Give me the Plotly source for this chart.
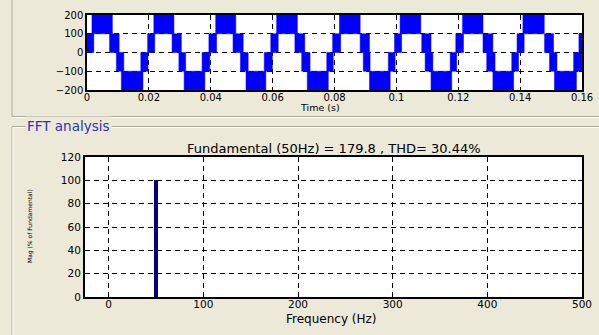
import plotly.graph_objects as go

# ---------------- data ----------------
# Top plot: PWM staircase waveform, drawn as switching bands (start, end) per level band
band_100_200 = [(0.0016, 0.0082), (0.0216, 0.0281), (0.0416, 0.0481), (0.0613, 0.0680),
                (0.0816, 0.0883), (0.1012, 0.1079), (0.1214, 0.1280), (0.1409, 0.1478)]
band_0_100 = [(0.0000, 0.0022), (0.0073, 0.0104), (0.0196, 0.0219), (0.0275, 0.0305),
              (0.0394, 0.0419), (0.0472, 0.0505), (0.0594, 0.0618), (0.0672, 0.0704),
              (0.0794, 0.0820), (0.0883, 0.0913), (0.0994, 0.1017), (0.1082, 0.1112),
              (0.1192, 0.1217), (0.1280, 0.1312), (0.1390, 0.1413), (0.1479, 0.1508),
              (0.1590, 0.1600)]
band_m100_0 = [(0.0095, 0.0119), (0.0174, 0.0197), (0.0297, 0.0319), (0.0372, 0.0397),
               (0.0496, 0.0521), (0.0573, 0.0599), (0.0694, 0.0721), (0.0775, 0.0796),
               (0.0893, 0.0915), (0.0974, 0.0996), (0.1093, 0.1118), (0.1174, 0.1195),
               (0.1292, 0.1319), (0.1373, 0.1395), (0.1495, 0.1519), (0.1573, 0.1600)]
band_m200_m100 = [(0.0111, 0.0181), (0.0314, 0.0381), (0.0514, 0.0578), (0.0712, 0.0780),
                  (0.0913, 0.0980), (0.1112, 0.1179), (0.1312, 0.1379), (0.1511, 0.1582)]
band_levels = [(100, 200), (0, 100), (-100, 0), (-200, -100)]

time_ticks = [0, 0.02, 0.04, 0.06, 0.08, 0.1, 0.12, 0.14, 0.16]
time_tick_text = ["0", "0.02", "0.04", "0.06", "0.08", "0.1", "0.12", "0.14", "0.16"]
volt_ticks = [-200, -100, 0, 100, 200]

# Bottom plot: FFT spectrum
freq_hz = [50]
mag_pct = [100]
freq_ticks = [0, 100, 200, 300, 400, 500]
mag_ticks = [0, 20, 40, 60, 80, 100, 120]
fft_title = "Fundamental (50Hz) = 179.8 , THD= 30.44%"

# ---------------- figure ----------------
W, H = 599, 335
BG = "#ECE9D8"
FONT = "DejaVu Sans"

fig = go.Figure()

xs, ys = [], []
for band, (lo, hi) in zip([band_100_200, band_0_100, band_m100_0, band_m200_m100], band_levels):
    for s, e in band:
        xs += [s, e, e, s, s, None]
        ys += [lo, lo, hi, hi, lo, None]

fig.add_trace(go.Scatter(x=xs, y=ys, mode="lines", fill="toself", fillcolor="#0000FF",
                         line=dict(color="#0000FF", width=0.5), xaxis="x", yaxis="y",
                         hoverinfo="skip", showlegend=False))

fig.add_trace(go.Bar(x=freq_hz, y=mag_pct, width=4.2, marker=dict(color="#000080", line=dict(width=0)),
                     xaxis="x2", yaxis="y2", showlegend=False))

def px_x(p):
    return p / W

def px_y(p):
    return 1 - p / H

common = dict(showline=True, linecolor="black", mirror="ticks", ticks="inside", tickcolor="black",
              showgrid=True, gridcolor="black", griddash="5px,4px", gridwidth=1, zeroline=False,
              automargin=False)

fig.update_layout(
    width=W, height=H, autosize=False,
    margin=dict(l=0, r=0, t=0, b=0, pad=0, autoexpand=False),
    paper_bgcolor=BG, plot_bgcolor="white",
    bargap=0,
    xaxis=dict(domain=[px_x(87), px_x(582)], range=[0, 0.16], tickvals=time_ticks,
               ticktext=time_tick_text, ticklen=3, linewidth=1.5, anchor="y", ticklabelstandoff=-3,
               tickfont=dict(family=FONT, size=10, color="black"), **common),
    yaxis=dict(domain=[px_y(90), px_y(15)], range=[-200, 200], tickvals=volt_ticks, ticklen=3,
               linewidth=1.5, anchor="x", tickfont=dict(family=FONT, size=10, color="black"), **common),
    xaxis2=dict(domain=[px_x(85), px_x(582)], range=[-25, 500], tickvals=freq_ticks, ticklen=4,
                linewidth=2, anchor="y2", ticklabelstandoff=-4,
                tickfont=dict(family=FONT, size=10.5, color="black"), **common),
    yaxis2=dict(domain=[px_y(297), px_y(157)], range=[0, 120], tickvals=mag_ticks, ticklen=4,
                linewidth=2, anchor="x2", tickfont=dict(family=FONT, size=10.5, color="black"), **common),
    showlegend=False,
)

# panel borders (Windows-style etched group boxes)
GRAY = "#ACA899"
shapes = [
    dict(type="line", xref="paper", yref="paper", x0=px_x(12), x1=px_x(12), y0=px_y(0), y1=px_y(116.5),
         line=dict(color=GRAY, width=1)),
    dict(type="line", xref="paper", yref="paper", x0=px_x(12), x1=1, y0=px_y(116.5), y1=px_y(116.5),
         line=dict(color=GRAY, width=1)),
    dict(type="line", xref="paper", yref="paper", x0=px_x(12), x1=1, y0=px_y(117.5), y1=px_y(117.5),
         line=dict(color="white", width=1)),
    dict(type="line", xref="paper", yref="paper", x0=px_x(12), x1=1, y0=px_y(126.5), y1=px_y(126.5),
         line=dict(color=GRAY, width=1)),
    dict(type="line", xref="paper", yref="paper", x0=px_x(12), x1=1, y0=px_y(127.5), y1=px_y(127.5),
         line=dict(color="white", width=1)),
    dict(type="line", xref="paper", yref="paper", x0=px_x(12), x1=px_x(12), y0=px_y(126.5), y1=0,
         line=dict(color=GRAY, width=1)),
    dict(type="line", xref="paper", yref="paper", x0=px_x(13), x1=px_x(13), y0=px_y(127.5), y1=0,
         line=dict(color="white", width=1)),
]
fig.update_layout(shapes=shapes)

fig.add_annotation(x=px_x(25), y=px_y(126.5), xref="paper", yref="paper", xanchor="left", yanchor="middle",
                   text="FFT analysis", showarrow=False, bgcolor=BG, borderpad=1,
                   font=dict(family=FONT, size=13.5, color="#3030C0"))
fig.add_annotation(x=px_x(333.5), y=px_y(148), xref="paper", yref="paper", xanchor="center", yanchor="middle",
                   text=fft_title, showarrow=False,
                   font=dict(family=FONT, size=13, color="black"))
fig.add_annotation(x=px_x(30), y=px_y(226), xref="paper", yref="paper", xanchor="center", yanchor="middle",
                   text="Mag (% of Fundamental)", textangle=-90, showarrow=False,
                   font=dict(family=FONT, size=6, color="black"))
fig.add_annotation(x=px_x(320), y=px_y(107.5), xref="paper", yref="paper", xanchor="center", yanchor="middle",
                   text="Time (s)", showarrow=False,
                   font=dict(family=FONT, size=9.5, color="black"))
fig.add_annotation(x=px_x(331), y=px_y(319), xref="paper", yref="paper", xanchor="center", yanchor="middle",
                   text="Frequency (Hz)", showarrow=False,
                   font=dict(family=FONT, size=12, color="black"))

fig.write_html("out.html", config={"displayModeBar": False},
               post_script="document.body.style.margin='0px';document.body.style.overflow='hidden';")
